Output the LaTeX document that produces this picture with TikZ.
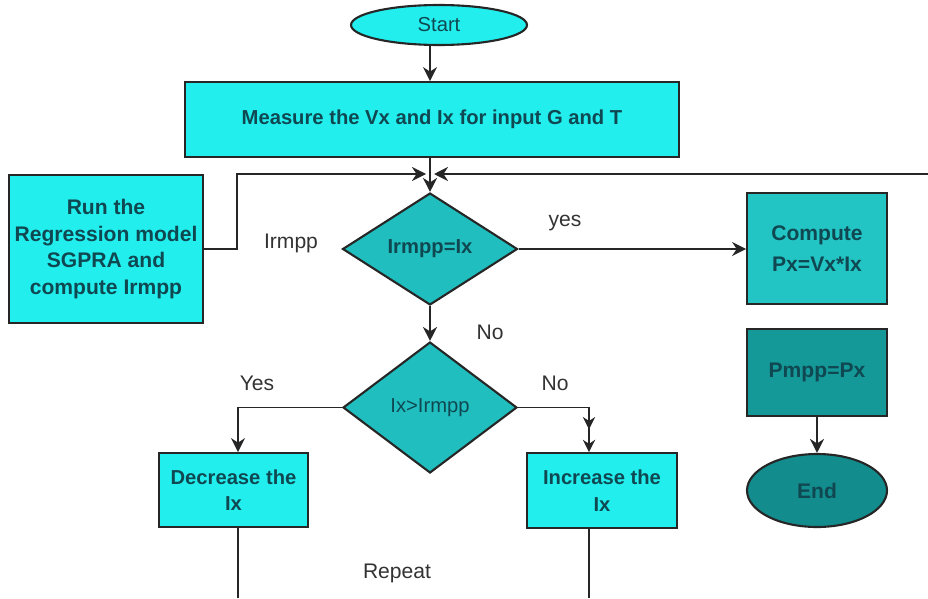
\documentclass[tikz,border=0pt]{standalone}
\usepackage{fontspec}
\setmainfont{Liberation Sans}
\usetikzlibrary{shapes.geometric,arrows.meta,positioning}

\definecolor{boxcyan}{RGB}{34,238,238}
\definecolor{diamteal}{RGB}{32,190,190}
\definecolor{compteal}{RGB}{34,196,196}
\definecolor{darkteal}{RGB}{20,152,152}
\definecolor{endteal}{RGB}{18,140,140}
\definecolor{boxtext}{RGB}{16,72,82}

\begin{document}
\begin{tikzpicture}[
    x=0.02cm, y=-0.02cm,
    proc/.style={draw=black!85, fill=boxcyan, rectangle, line width=1pt, text=boxtext,
        font=\fontsize{11.5}{15}\selectfont\bfseries, align=center, inner sep=1pt},
    decide/.style={draw=black!85, fill=diamteal, diamond, aspect=1.8, line width=1.2pt,
        text=boxtext, font=\fontsize{11.5}{14}\selectfont, inner sep=0pt},
    term/.style={draw=black!85, ellipse, line width=1.2pt, text=boxtext,
        font=\fontsize{11.5}{14}\selectfont},
    lbl/.style={text=black!80, font=\fontsize{12}{14}\selectfont},
    conn/.style={draw=black!85, line width=1.1pt},
    >={Stealth[length=8pt,width=8pt]}
]
\useasboundingbox (0,0) rectangle (928,598);

% start and measurement
\node[term, fill=boxcyan, minimum width=3.52cm, minimum height=0.8cm] (start) at (439,25) {Start};
\node[proc, minimum width=9.88cm, minimum height=1.5cm] (measure) at (432,119.5)
    {Measure the Vx and Ix for input G and T};

% regression model
\node[proc, minimum width=3.88cm, minimum height=2.96cm, font=\fontsize{12}{15.3}\selectfont\bfseries]
    (run) at (106,249) {Run the\\Regression model\\SGPRA and\\compute Irmpp};

% decisions
\node[decide, font=\fontsize{11.5}{14}\selectfont\bfseries, minimum width=3.5cm, minimum height=2.24cm]
    (eq) at (430,249) {Irmpp=Ix};
\node[decide, minimum width=3.48cm, minimum height=2.62cm] (gt) at (430,407.5) {Ix>Irmpp};

% right column
\node[proc, fill=compteal, minimum width=2.8cm, minimum height=2.22cm,
    font=\fontsize{12}{18}\selectfont\bfseries] (compute) at (817,248.5) {Compute\\Px=Vx*Ix};
\node[proc, fill=darkteal, minimum width=2.8cm, minimum height=1.74cm,
    font=\fontsize{12}{15}\selectfont\bfseries] (pmpp) at (817,372.5) {Pmpp=Px};
\node[term, fill=endteal, minimum width=2.8cm, minimum height=1.46cm,
    font=\fontsize{12}{15}\selectfont\bfseries] (end) at (817,490.5) {End};

% adjust boxes
\node[proc, minimum width=2.98cm, minimum height=1.48cm] (dec) at (233.5,490) {Decrease the\\Ix};
\node[proc, minimum width=3cm, minimum height=1.5cm] (inc) at (602,490.5) {Increase the\\Ix};

% loop coordinates
\coordinate (merge) at (430,174);
\coordinate (runbend) at (237,174);
\coordinate (loopin) at (928,174);
\coordinate (decout) at (238,598);
\coordinate (incout) at (589,598);

% connectors
\draw[conn, ->] (start.south -| eq.north) -- (eq.north |- measure.north);
\draw[conn, ->] (measure.south -| eq.north) -- (eq.north);
\draw[conn, ->] (run.east) -| (runbend) -- ([xshift=-0.08cm]merge);
\draw[conn, ->] (loopin) -- ([xshift=0.08cm]merge);
\draw[conn, ->] (eq.east) -- (eq.east -| compute.west);
\draw[conn, ->] (eq.south) -- (gt.north);
\draw[conn, ->] (gt.west) -| (dec.north -| decout);
\draw[conn, -{Stealth[length=7pt,width=7pt,sep=6pt]Stealth[length=7pt,width=7pt]}]
    (gt.east) -| (inc.north -| incout);
\draw[conn, ->] (pmpp.south) -- (end.north);
\draw[conn] (dec.south -| decout) -- (decout);
\draw[conn] (inc.south -| incout) -- (incout);

% labels
\node[lbl] (lirmpp) at (291,243) {Irmpp};
\node[lbl] (lyes) at (565,223) {yes};
\node[lbl] (lno) at (490,332) {No};
\node[lbl] (lyes2) at (257,383) {Yes};
\node[lbl] (lno2) at (555,383) {No};
\node[lbl] (lrepeat) at (397,573) {Repeat};

\end{tikzpicture}
\end{document}
